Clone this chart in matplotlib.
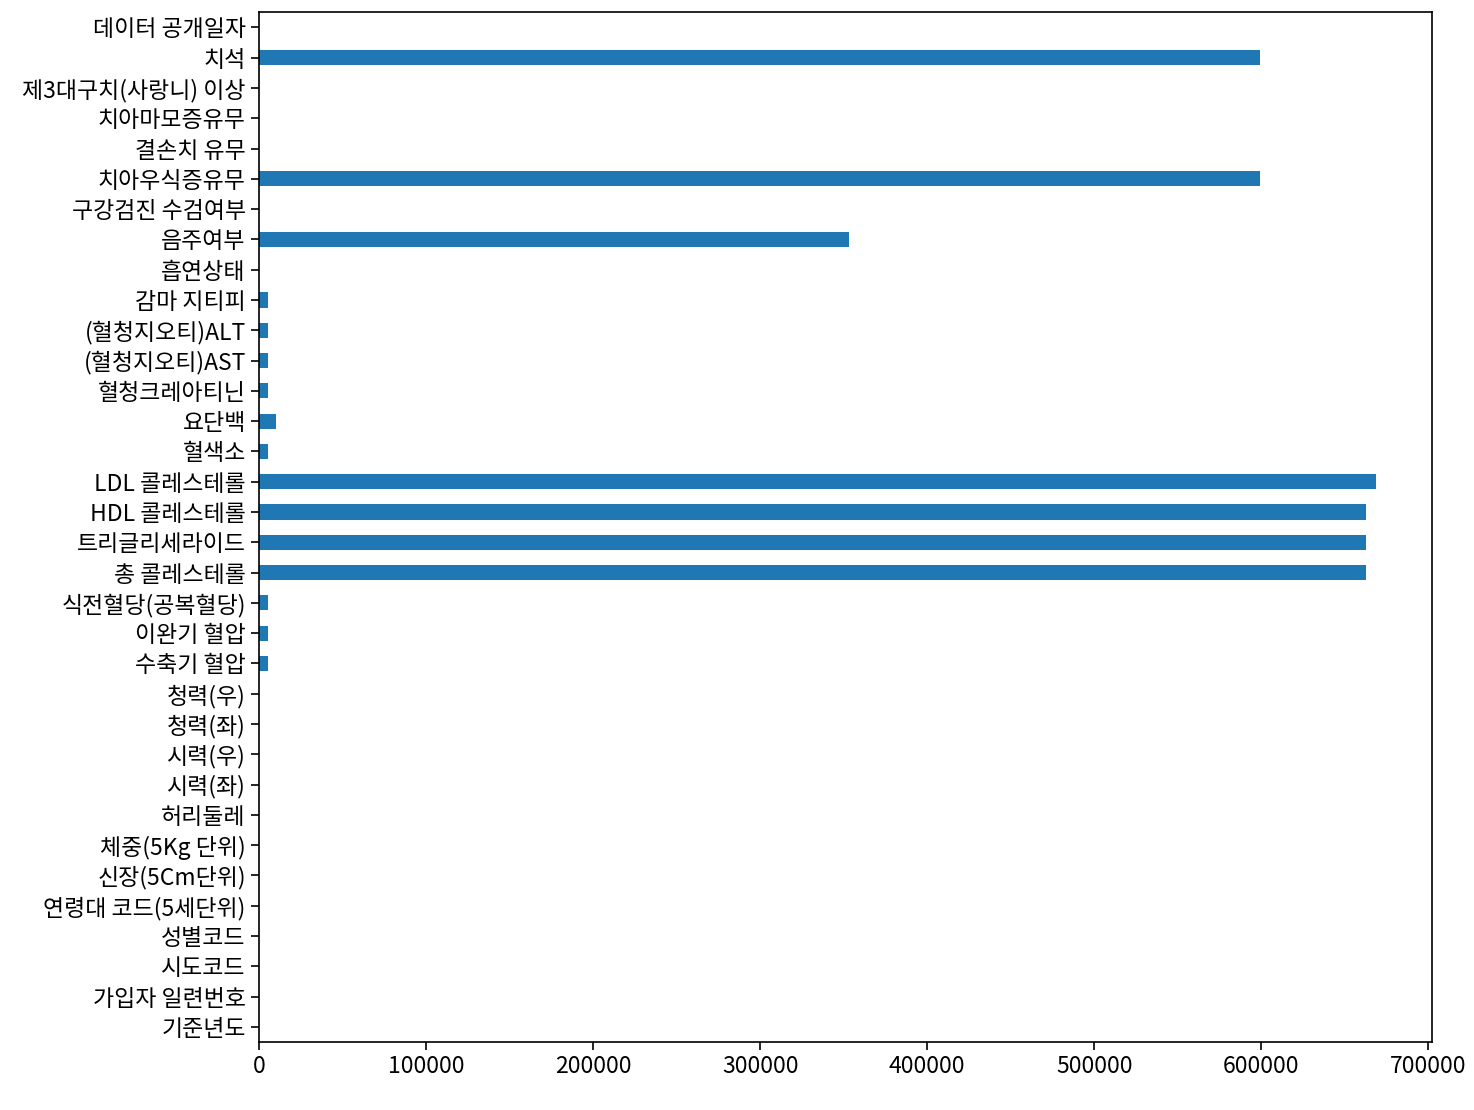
import matplotlib
matplotlib.use("Agg")
import matplotlib.pyplot as plt
import pandas as pd

plt.rcParams["font.family"] = ["Noto Sans CJK KR", "DejaVu Sans"]
plt.rcParams["axes.unicode_minus"] = False

# column names (in dataframe order) and their missing-value counts
columns = [
    "기준년도", "가입자 일련번호", "시도코드", "성별코드", "연령대 코드(5세단위)",
    "신장(5Cm단위)", "체중(5Kg 단위)", "허리둘레", "시력(좌)", "시력(우)",
    "청력(좌)", "청력(우)", "수축기 혈압", "이완기 혈압", "식전혈당(공복혈당)",
    "총 콜레스테롤", "트리글리세라이드", "HDL 콜레스테롤", "LDL 콜레스테롤", "혈색소",
    "요단백", "혈청크레아티닌", "(혈청지오티)AST", "(혈청지오티)ALT", "감마 지티피",
    "흡연상태", "음주여부", "구강검진 수검여부", "치아우식증유무", "결손치 유무",
    "치아마모증유무", "제3대구치(사랑니) 이상", "치석", "데이터 공개일자",
]
missing = [
    0, 0, 0, 0, 0,
    0, 0, 0, 0, 0,
    0, 0, 5600, 5600, 5600,
    662800, 662800, 662800, 668700, 5600,
    10400, 5600, 5600, 5600, 5600,
    0, 353100, 0, 599000, 0,
    0, 0, 599000, 0,
]

s = pd.Series(missing, index=columns)

fig, ax = plt.subplots(figsize=(14.74, 11.10), dpi=100)
s.plot.barh(ax=ax, color="#1f77b4")
ax.tick_params(axis="both", labelsize=16.5, length=6, width=1.2)
for lbl in ax.get_xticklabels() + ax.get_yticklabels():
    lbl.set_fontweight("light")
for sp in ax.spines.values():
    sp.set_linewidth(1.2)
fig.subplots_adjust(left=0.1757, right=0.9715, top=0.989, bottom=0.0613)
fig.savefig("out.png", dpi=100)
